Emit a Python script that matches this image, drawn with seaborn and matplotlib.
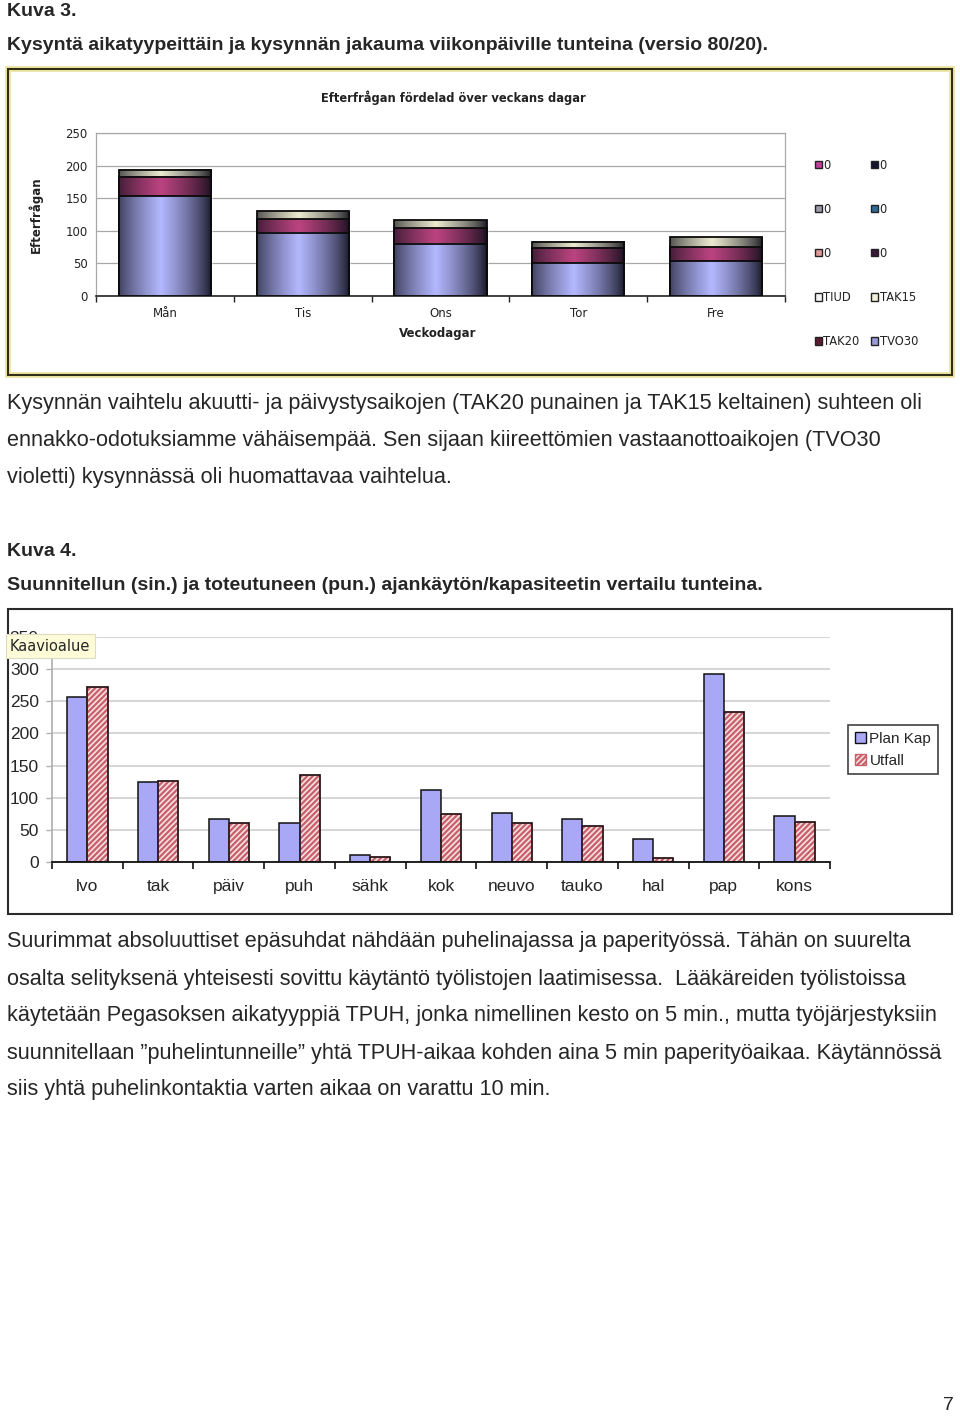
import numpy as np
import pandas as pd
import seaborn as sns
import matplotlib.pyplot as plt
from matplotlib.patches import Rectangle, Patch
from matplotlib.colors import to_rgb

# Kuva 3: kysyntä viikonpäivittäin (tunteja)
days = ['Mån', 'Tis', 'Ons', 'Tor', 'Fre']
tvo30 = [153, 97, 80, 50, 53]
tak20 = [30, 21, 24, 24, 22]
tak15 = [11, 12, 12, 9, 15]

# Kuva 4: suunniteltu vs toteutunut
tasks = ['lvo', 'tak', 'päiv', 'puh', 'sähk', 'kok', 'neuvo', 'tauko', 'hal', 'pap', 'kons']
plan_kap = [256, 124, 67, 61, 11, 112, 76, 67, 36, 293, 71]
utfall = [272, 126, 61, 135, 8, 74, 61, 56, 6, 234, 63]

W, H = 960, 1416


def box(l, t, r, b):
    return [l / W, 1 - b / H, (r - l) / W, (b - t) / H]


def fy(y):
    return 1 - y / H


sns.set_theme(style='white')
plt.rcParams['font.family'] = ['Liberation Sans', 'DejaVu Sans']
plt.rcParams['hatch.linewidth'] = 1.6

fig = plt.figure(figsize=(W / 100, H / 100), dpi=100)
fig.patch.set_facecolor('white')

# ---- page text ----
body = 15.6
cap = 14.0
fig.text(7 / W, fy(12), 'Kuva 3.', fontsize=cap, fontweight='bold', va='center')
fig.text(7 / W, fy(45), 'Kysyntä aikatyypeittäin ja kysynnän jakauma viikonpäiville tunteina (versio 80/20).',
         fontsize=cap, fontweight='bold', va='center')
para1 = ['Kysynnän vaihtelu akuutti- ja päivystysaikojen (TAK20 punainen ja TAK15 keltainen) suhteen oli',
         'ennakko-odotuksiamme vähäisempää. Sen sijaan kiireettömien vastaanottoaikojen (TVO30',
         'violetti) kysynnässä oli huomattavaa vaihtelua.']
for i, line in enumerate(para1):
    fig.text(7 / W, fy(404 + 37 * i), line, fontsize=body, va='center')
fig.text(7 / W, fy(551), 'Kuva 4.', fontsize=cap, fontweight='bold', va='center')
fig.text(7 / W, fy(585), 'Suunnitellun (sin.) ja toteutuneen (pun.) ajankäytön/kapasiteetin vertailu tunteina.',
         fontsize=cap, fontweight='bold', va='center')
para2 = ['Suurimmat absoluuttiset epäsuhdat nähdään puhelinajassa ja paperityössä. Tähän on suurelta',
         'osalta selityksenä yhteisesti sovittu käytäntö työlistojen laatimisessa.  Lääkäreiden työlistoissa',
         'käytetään Pegasoksen aikatyyppiä TPUH, jonka nimellinen kesto on 5 min., mutta työjärjestyksiin',
         'suunnitellaan ”puhelintunneille” yhtä TPUH-aikaa kohden aina 5 min paperityöaikaa. Käytännössä',
         'siis yhtä puhelinkontaktia varten aikaa on varattu 10 min.']
for i, line in enumerate(para2):
    fig.text(7 / W, fy(942 + 37 * i), line, fontsize=body, va='center')
fig.text(948 / W, fy(1406), '7', fontsize=14, ha='center', va='center')

# ---- chart 1 frame ----
fig.add_artist(Rectangle((8 / W, fy(375)), 944 / W, 306 / H, transform=fig.transFigure,
                         fill=False, ec='#e8e098', lw=4))
fig.add_artist(Rectangle((8 / W, fy(375)), 944 / W, 306 / H, transform=fig.transFigure,
                         fill=False, ec='#2a2a14', lw=1.4))

ax1 = fig.add_axes(box(96, 133, 785, 296))
blue1, red1, cream1 = '#b4b8ff', '#bc4480', '#ecebd0'
mid = np.add(tvo30, tak20)
total = mid + np.array(tak15)
for vals, col in [(total, cream1), (mid, red1), (tvo30, blue1)]:
    sns.barplot(x=days, y=vals, color=col, width=0.67, saturation=1, ax=ax1)

# cylinder-like shading on each bar
t = np.linspace(0, 1, 200)
shade = np.clip(1 - np.abs(t - 0.45) / 0.56, 0, 1) ** 0.7
dark = np.array(to_rgb('#0c0c18'))
for i, p in enumerate(list(ax1.patches)):
    x0, y0, w, h = p.get_x(), p.get_y(), p.get_width(), p.get_height()
    c = np.array(p.get_facecolor()[:3])
    img = dark + (c - dark) * shade[:, None]
    z = 3 + i * 0.01
    ax1.imshow(img[None, :, :], extent=[x0, x0 + w, y0, y0 + h], aspect='auto', zorder=z)
    ax1.add_patch(Rectangle((x0, y0), w, h, fill=False, ec='#0a0a0a', lw=1.3, zorder=z + 0.005))

ax1.set_xlim(-0.5, 4.5)
ax1.set_ylim(0, 250)
ax1.set_yticks(range(0, 251, 50))
ax1.yaxis.grid(True, color='#a8a8a8', lw=0.9)
ax1.set_axisbelow(True)
for s in ['left', 'top', 'right']:
    ax1.spines[s].set_color('#a8a8a8')
    ax1.spines[s].set_linewidth(0.9)
ax1.spines['bottom'].set_color('#222222')
ax1.spines['bottom'].set_linewidth(1.2)
ax1.set_xticks(np.arange(-0.5, 5, 1), minor=True)
ax1.tick_params(axis='x', which='minor', length=4, width=1, color='#222222', direction='out', bottom=True)
ax1.tick_params(axis='x', which='major', length=0, pad=8, labelsize=8.5)
ax1.tick_params(axis='y', length=0, pad=6, labelsize=8.5)
for lab in ax1.get_xticklabels() + ax1.get_yticklabels():
    lab.set_family('DejaVu Sans')
    lab.set_color('#222222')
ax1.set_xlabel('')
ax1.set_ylabel('')

fig.text(453 / W, fy(98), 'Efterfrågan fördelad över veckans dagar', family='DejaVu Sans',
         fontsize=8.3, fontweight='bold', ha='center', va='center', color='#222222')
fig.text(438 / W, fy(334), 'Veckodagar', family='DejaVu Sans', fontsize=8.5,
         fontweight='bold', ha='center', va='center', color='#222222')
fig.text(36 / W, fy(215), 'Efterfrågan', family='DejaVu Sans', fontsize=8.5, rotation=90,
         fontweight='bold', ha='center', va='center', color='#222222')

leg_cols = ['#c0409a', '#9a9aa8', '#e09a9a', '#f4f4f4', '#5a1c30',
            '#141432', '#2e6a96', '#3a1838', '#f0f0d8', '#9a9ad8']
leg_labels = ['0', '0', '0', 'TIUD', 'TAK20', '0', '0', '0', 'TAK15', 'TVO30']
handles = [Patch(facecolor=c, edgecolor='#222222', lw=1) for c in leg_cols]
leg1 = ax1.legend(handles, leg_labels, ncol=2, loc='upper left',
                  bbox_to_anchor=(810 / W, fy(154)), bbox_transform=fig.transFigure,
                  frameon=False, prop={'family': 'DejaVu Sans', 'size': 8.3},
                  handlelength=0.6, handleheight=0.6, handletextpad=0.15,
                  labelspacing=2.7, columnspacing=1.0, borderaxespad=0)
for txt in leg1.get_texts():
    txt.set_color('#222222')

# ---- chart 2 frame ----
fig.add_artist(Rectangle((8 / W, fy(914)), 944 / W, 305 / H, transform=fig.transFigure,
                         fill=False, ec='#2a2a2a', lw=1.5))

ax2 = fig.add_axes(box(52, 637, 830, 862))
blue2, pink2, stripe = '#a8a8f6', '#f6e0e0', '#c8606c'
df2 = pd.DataFrame({'tehtava': tasks * 2,
                    'sarja': ['Plan Kap'] * len(tasks) + ['Utfall'] * len(tasks),
                    'tunnit': plan_kap + utfall})
sns.barplot(data=df2, x='tehtava', y='tunnit', hue='sarja',
            palette={'Plan Kap': blue2, 'Utfall': pink2}, width=0.57, saturation=1,
            edgecolor='#111111', linewidth=1.1, legend=False, ax=ax2)
for p in list(ax2.patches):
    if np.allclose(p.get_facecolor()[:3], to_rgb(pink2), atol=0.01):
        p.set_hatch('//////')
        p.set_edgecolor(stripe)
        ax2.add_patch(Rectangle((p.get_x(), p.get_y()), p.get_width(), p.get_height(),
                                fill=False, ec='#111111', lw=1.1, zorder=p.get_zorder() + 0.1))

ax2.set_xlim(-0.5, len(tasks) - 0.5)
ax2.set_ylim(0, 350)
ax2.set_yticks(range(0, 351, 50))
ax2.yaxis.grid(True, color='#d2d2d2', lw=1.3)
ax2.set_axisbelow(True)
ax2.spines['top'].set_visible(False)
ax2.spines['right'].set_visible(False)
ax2.spines['left'].set_color('#b0b0b0')
ax2.spines['bottom'].set_color('#111111')
ax2.spines['bottom'].set_linewidth(1.3)
ax2.set_xticks(np.arange(-0.5, len(tasks), 1), minor=True)
ax2.tick_params(axis='x', which='minor', length=5, width=1.2, color='#111111', direction='out', bottom=True)
ax2.tick_params(axis='x', which='major', length=0, pad=12, labelsize=12.5)
ax2.tick_params(axis='y', length=4, width=1, color='#b0b0b0', direction='out', left=True, pad=5.5, labelsize=12.5)
ax2.set_xlabel('')
ax2.set_ylabel('')

h2 = [Patch(facecolor=blue2, edgecolor='#111111', lw=1),
      Patch(facecolor=pink2, edgecolor=stripe, hatch='//////', lw=1)]
leg2 = ax2.legend(h2, ['Plan Kap', 'Utfall'], loc='upper left',
                  bbox_to_anchor=(848 / W, fy(725)), bbox_transform=fig.transFigure,
                  fontsize=11, handlelength=0.7, handleheight=0.7, handletextpad=0.25,
                  borderpad=0.45, labelspacing=0.5, borderaxespad=0, fancybox=False)
leg2.get_frame().set_edgecolor('#111111')
leg2.get_frame().set_linewidth(1.2)

fig.text(10 / W, fy(646), 'Kaavioalue', family='DejaVu Sans', fontsize=10.5, va='center',
         bbox=dict(boxstyle='square,pad=0.3', fc='#fdfbd8', ec='#dcdcc0', lw=0.8))

fig.savefig('out.png', dpi=100)
